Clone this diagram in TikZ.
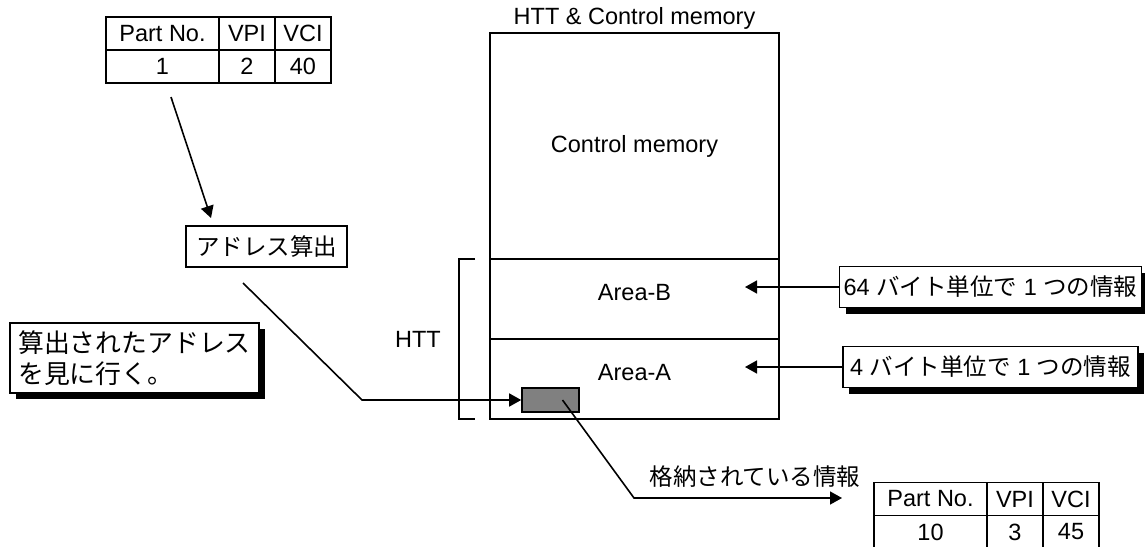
\documentclass[tikz,border=0pt]{standalone}
\usepackage{fontspec}
\setmainfont{Liberation Sans}
\newfontfamily\jpfont{Noto Sans CJK JP}
\newfontfamily\jpbigfont[Scale=1.1]{Noto Sans CJK JP}
\newcommand{\ja}[1]{{\jpfont #1}}
\usetikzlibrary{arrows.meta,positioning,shadows}

\begin{document}
\begin{tikzpicture}[
  x=0.5pt, y=-0.5pt,
  font=\fontsize{11.75}{15}\selectfont,
  line width=0.8pt,
  cell/.style={draw, inner sep=0pt, outer sep=0pt, minimum height=16.5pt},
  region/.style={draw, inner sep=0pt, outer sep=0pt, minimum width=144.5pt},
  note/.style={draw, fill=white, inner xsep=2pt, inner ysep=2pt,
    drop shadow={shadow xshift=3pt, shadow yshift=-3pt, fill=black, opacity=1}},
  plainbox/.style={draw, inner xsep=5pt, minimum height=20.5pt},
  slot/.style={draw, fill=black!50, minimum width=28.5pt, minimum height=12pt,
    inner sep=0pt},
  arr/.style={-{Triangle[length=6pt,width=6.5pt]}}
]
  \useasboundingbox (0,0) rectangle (1145,546);

  \node[cell, minimum width=56.5pt] (pn1) at (162.5,33.5) {Part No.};
  \node[cell, minimum width=28pt, right=0pt of pn1] (vpi1) {VPI};
  \node[cell, minimum width=28pt, right=0pt of vpi1] (vci1) {VCI};
  \node[cell, minimum width=56.5pt, below=0pt of pn1] (pnv1) {1};
  \node[cell, minimum width=28pt, right=0pt of pnv1] (vpiv1) {2};
  \node[cell, minimum width=28pt, right=0pt of vpiv1] (vciv1) {40};

  \node[plainbox, minimum width=80.5pt] (calc) at (266.5,246.5) {\ja{アドレス算出}};

  \node[note, minimum width=124.5pt, minimum height=35pt, align=left,
    font=\jpbigfont\fontsize{11.75}{15.5}\selectfont] (lookup)
    at (134.5,358) {算出されたアドレス\\を見に行く。};

  \node (title) at (634.5,18) {HTT \& Control memory};
  \node[region, minimum height=113pt] (ctrl) at (634.5,146)
    {\raisebox{-6pt}{Control memory}};
  \node[region, minimum height=40pt, below=0pt of ctrl] (areaB)
    {\raisebox{7pt}{Area-B}};
  \node[region, minimum height=40pt, below=0pt of areaB] (areaA)
    {\raisebox{7pt}{Area-A}};
  \node[slot] (slot) at (550.5,400) {};

  \node (httlabel) at (418,339) {HTT};
  \draw ([xshift=-7.5pt]areaB.north west) -| ([xshift=-15.5pt]areaA.south west)
    -- ([xshift=-7.5pt]areaA.south west);

  \node[note, minimum width=147.5pt, minimum height=20.5pt] (unit64) at (990.5,287)
    {64 \ja{バイト単位で} 1 \ja{つの情報}};
  \node[note, minimum width=147.5pt, minimum height=20.5pt] (unit4) at (990.5,367)
    {4 \ja{バイト単位で} 1 \ja{つの情報}};

  \node[cell, minimum width=56.5pt] (pn2) at (930.5,499) {Part No.};
  \node[cell, minimum width=28pt, right=0pt of pn2] (vpi2) {VPI};
  \node[cell, minimum width=28pt, right=0pt of vpi2] (vci2) {VCI};
  \node[cell, minimum width=56.5pt, below=0pt of pn2] (pnv2) {10};
  \node[cell, minimum width=28pt, right=0pt of pnv2] (vpiv2) {3};
  \node[cell, minimum width=28pt, right=0pt of vpiv2] (vciv2) {45};

  \node (stored) at (755,477) {\ja{格納されている情報}};

  \coordinate (fromtab) at (171,97);
  \coordinate (tocalc) at (211,218);
  \coordinate (calcout) at (243,283);
  \coordinate (bendin) at (362,400);
  \coordinate (bendout) at (634,498);
  \coordinate (tipstored) at (842,498);
  \coordinate (tipB) at (745,287);
  \coordinate (tipA) at (745,367);

  \draw[arr] (fromtab) -- (tocalc);
  \draw[arr] (calcout) -- (bendin) -- (slot.west);
  \draw[arr] ([xshift=6pt]slot.center) -- (bendout) -- (tipstored);
  \draw[arr] (unit64.west) -- (tipB);
  \draw[arr] (unit4.west) -- (tipA);
\end{tikzpicture}
\end{document}
